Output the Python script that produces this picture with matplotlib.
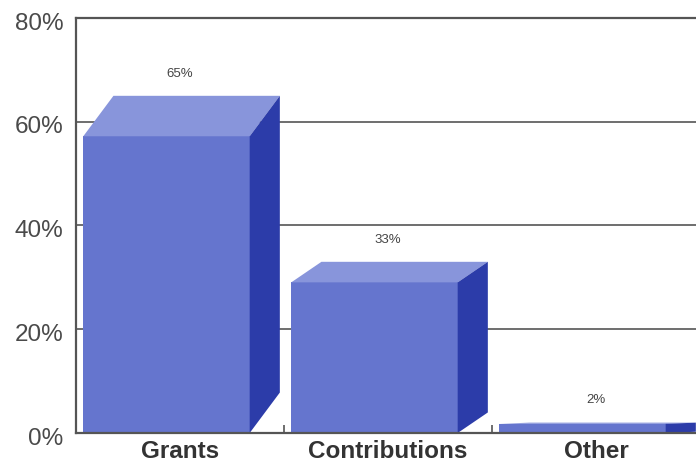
import matplotlib
matplotlib.use("Agg")
import matplotlib.pyplot as plt
import matplotlib.transforms as mtransforms
from matplotlib.patches import Polygon
from matplotlib.ticker import FixedLocator

categories = ["Grants", "Contributions", "Other"]
shares = [65, 33, 2]
value_labels = ["65%", "33%", "2%"]
y_ticks = [0, 20, 40, 60, 80]
y_tick_labels = ["0%", "20%", "40%", "60%", "80%"]

FRONT = "#6575CE"
TOP = "#8895DB"
SIDE = "#2C3CA9"
AXIS_GREY = "#555555"

plt.rcParams["font.family"] = ["Liberation Sans", "DejaVu Sans"]

fig = plt.figure(figsize=(6.96, 4.69), dpi=100)
ax = fig.add_axes([76 / 696, 36 / 469, 624 / 696, 415 / 469])
ax.set_xlim(-0.5, len(categories) - 0.5)
ax.set_ylim(0, 80)

# pseudo-3D box geometry (in data units)
face_offset = 0.035
face_width = 0.80
depth_x = 0.145
depth_ratio = 0.12  # vertical depth as a fraction of the value

for i, v in enumerate(shares):
    dy = v * depth_ratio
    front_h = v - dy
    xl = i - 0.5 + face_offset
    xr = xl + face_width
    ax.bar(xl, front_h, width=face_width, align="edge", color=FRONT,
           edgecolor="none", zorder=3)
    top = Polygon([(xl, front_h), (xl + depth_x, v), (xr + depth_x, v),
                   (xr, front_h)], closed=True, facecolor=TOP,
                  edgecolor="none", zorder=3)
    side = Polygon([(xr, 0), (xr + depth_x, dy), (xr + depth_x, v),
                    (xr, front_h)], closed=True, facecolor=SIDE,
                   edgecolor="none", zorder=3)
    ax.add_patch(top)
    ax.add_patch(side)
    ax.annotate(value_labels[i], xy=(i, v), xytext=(0, 16),
                textcoords="offset points", ha="center", va="center",
                fontsize=9.5, color="#444444", zorder=4)

# grid and frame
for y in y_ticks[1:-1]:
    ax.axhline(y, color=AXIS_GREY, lw=1.2, zorder=1)
for side_name in ["top", "left", "bottom"]:
    ax.spines[side_name].set_color(AXIS_GREY)
    ax.spines[side_name].set_linewidth(1.6)
ax.spines["bottom"].set_zorder(5)
ax.spines["right"].set_visible(False)

ax.set_yticks(y_ticks)
ax.set_yticklabels(y_tick_labels, fontsize=17.5, color="#4a4a4a")
ax.tick_params(axis="y", length=0, pad=9)
# nudge the percentage labels slightly below their gridlines
shift = mtransforms.ScaledTranslation(0, -3 / 100, fig.dpi_scale_trans)
for tick in ax.yaxis.get_major_ticks():
    tick.label1.set_transform(tick.label1.get_transform() + shift)

ax.set_xticks(range(len(categories)))
ax.set_xticklabels(categories, fontsize=17.5, fontweight="bold", color="#333333")
ax.tick_params(axis="x", which="major", length=0, pad=5)
ax.xaxis.set_minor_locator(FixedLocator([0.5, 1.5]))
ax.tick_params(axis="x", which="minor", direction="in", length=6,
               width=1.2, color=AXIS_GREY)

fig.savefig("out.png", dpi=100)
